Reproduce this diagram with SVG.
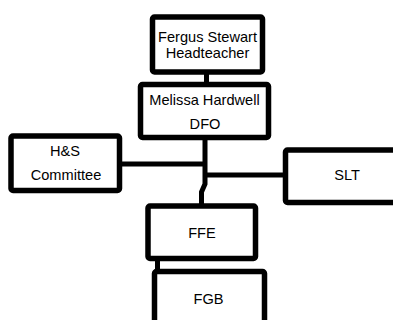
<svg xmlns="http://www.w3.org/2000/svg" width="393" height="320" viewBox="0 0 393 320">
<style>
.box{fill:#fff;stroke:#000;stroke-width:5.5;stroke-linejoin:round}
.lbl{font-family:"Liberation Sans",Arial,sans-serif;font-size:14.6px;fill:#000;text-anchor:middle}
.conn{fill:none;stroke:#000;stroke-width:5}
</style>
<rect width="393" height="320" fill="#fff"/>
<g id="connectors">
<path class="conn" d="M206.5,72 V84"/>
<path class="conn" d="M205,138 V184 L201.5,192 V205"/>
<path class="conn" d="M120,164 H205"/>
<path class="conn" d="M205,175 H287"/>
<path class="conn" d="M157.5,259 V271"/>
</g>
<g id="headteacher">
<rect class="box" x="152.5" y="17" width="110" height="55" rx="2"/>
<text class="lbl" x="207.5" y="42">Fergus Stewart</text>
<text class="lbl" x="207.5" y="57.5">Headteacher</text>
</g>
<g id="dfo">
<rect class="box" x="140.5" y="84.5" width="128" height="53" rx="2"/>
<text class="lbl" x="204.5" y="104.5">Melissa Hardwell</text>
<text class="lbl" x="205" y="128.5">DFO</text>
</g>
<g id="hs">
<rect class="box" x="11" y="136" width="108.5" height="54.5" rx="2"/>
<text class="lbl" x="65" y="156">H&amp;S</text>
<text class="lbl" x="66" y="180">Committee</text>
</g>
<g id="slt">
<rect class="box" x="285.5" y="150" width="125" height="52.5" rx="2"/>
<text class="lbl" x="347" y="180">SLT</text>
</g>
<g id="ffe">
<rect class="box" x="148" y="206" width="107.5" height="52.5" rx="2"/>
<text class="lbl" x="202" y="237.5">FFE</text>
</g>
<g id="fgb">
<rect class="box" x="154.5" y="271.5" width="110" height="60" rx="2"/>
<text class="lbl" x="208.5" y="304">FGB</text>
</g>
</svg>
